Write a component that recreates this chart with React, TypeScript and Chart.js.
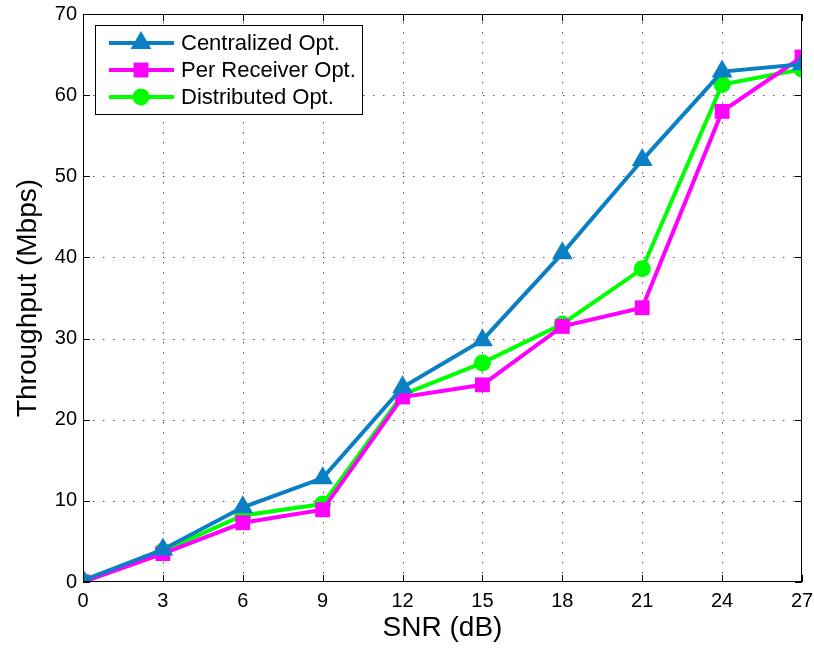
import React, { useEffect, useRef } from "react";
import { Chart, registerables } from "chart.js";

Chart.register(...registerables);

const snr = [0, 3, 6, 9, 12, 15, 18, 21, 24, 27];
const centralized = [0.2, 4.0, 9.2, 12.8, 24.0, 29.8, 40.5, 52.0, 62.9, 63.8];
const perReceiver = [0.0, 3.5, 7.3, 8.9, 22.8, 24.3, 31.5, 33.8, 58.0, 64.7];
const distributed = [0.1, 3.8, 8.2, 9.6, 23.1, 27.0, 31.8, 38.6, 61.3, 63.2];
const seriesNames = ["Centralized Opt.", "Per Receiver Opt.", "Distributed Opt."];
const xTicks = [0, 3, 6, 9, 12, 15, 18, 21, 24, 27];
const yTicks = [0, 10, 20, 30, 40, 50, 60, 70];

const FONT = "'Liberation Sans', Arial, sans-serif";

const gridPlugin = {
  id: "dotgrid",
  beforeDatasetsDraw(chart: any) {
    const { ctx, chartArea: a, scales } = chart;
    ctx.save();
    ctx.fillStyle = "#555";
    for (const v of xTicks.slice(1, -1)) {
      const x = Math.round(scales.x.getPixelForValue(v));
      for (let y = a.bottom - 10; y > a.top; y -= 10) ctx.fillRect(x, y, 1, 1.5);
    }
    for (const v of yTicks.slice(1, -1)) {
      const y = Math.round(scales.y.getPixelForValue(v));
      for (let x = a.left + 10; x < a.right; x += 10) ctx.fillRect(x, y, 1.5, 1);
    }
    ctx.restore();
  },
};

const framePlugin = {
  id: "frame",
  afterDraw(chart: any) {
    const { ctx, chartArea: a, scales } = chart;
    ctx.save();
    ctx.strokeStyle = "#000";
    ctx.lineWidth = 1;
    ctx.strokeRect(a.left + 0.5, a.top + 0.5, a.right - a.left - 1, a.bottom - a.top - 1);
    const tl = 7;
    ctx.beginPath();
    for (const v of xTicks) {
      const x = Math.round(scales.x.getPixelForValue(v)) + 0.5;
      ctx.moveTo(x, a.bottom);
      ctx.lineTo(x, a.bottom - tl);
      ctx.moveTo(x, a.top);
      ctx.lineTo(x, a.top + tl);
    }
    for (const v of yTicks) {
      const y = Math.round(scales.y.getPixelForValue(v)) + 0.5;
      ctx.moveTo(a.left, y);
      ctx.lineTo(a.left + tl, y);
      ctx.moveTo(a.right, y);
      ctx.lineTo(a.right - tl, y);
    }
    ctx.stroke();

    // legend
    const lx = 95, ly = 25, lw = 267, lh = 89;
    ctx.fillStyle = "#fff";
    ctx.fillRect(lx, ly, lw, lh);
    ctx.strokeStyle = "#000";
    ctx.lineWidth = 1;
    ctx.strokeRect(lx + 0.5, ly + 0.5, lw, lh);
    chart.data.datasets.forEach((ds: any, i: number) => {
      const y = 43 + i * 27;
      ctx.strokeStyle = ds.borderColor;
      ctx.lineWidth = 4;
      ctx.beginPath();
      ctx.moveTo(109, y);
      ctx.lineTo(174, y);
      ctx.stroke();
      ctx.fillStyle = ds.backgroundColor;
      const cx = 141;
      ctx.beginPath();
      const r = ds.pointRadius;
      if (ds.pointStyle === "triangle") {
        ctx.moveTo(cx, y - r);
        ctx.lineTo(cx + r * 0.866, y + r * 0.5);
        ctx.lineTo(cx - r * 0.866, y + r * 0.5);
        ctx.closePath();
      } else if (ds.pointStyle === "rect") {
        const s = r * Math.SQRT1_2;
        ctx.rect(cx - s, y - s, 2 * s, 2 * s);
      } else {
        ctx.arc(cx, y, r, 0, Math.PI * 2);
      }
      ctx.fill();
      ctx.fillStyle = "#000";
      ctx.font = `22px ${FONT}`;
      ctx.textBaseline = "middle";
      ctx.textAlign = "left";
      ctx.fillText(ds.label, 181, y + 1);
    });
    ctx.restore();
  },
};

export default function App() {
  const ref = useRef<HTMLCanvasElement>(null);
  useEffect(() => {
    const mk = (arr: number[]) => snr.map((x, i) => ({ x, y: arr[i] }));
    const chart = new Chart(ref.current!, {
      type: "line",
      data: {
        datasets: [
          {
            label: seriesNames[0],
            data: mk(centralized),
            borderColor: "#0a7fc4",
            backgroundColor: "#0a7fc4",
            borderWidth: 4,
            pointStyle: "triangle",
            pointRadius: 12,
            pointBorderWidth: 0,
          },
          {
            label: seriesNames[1],
            data: mk(perReceiver),
            borderColor: "#ff00ff",
            backgroundColor: "#ff00ff",
            borderWidth: 4,
            pointStyle: "rect",
            pointRadius: 10.5,
            pointBorderWidth: 0,
          },
          {
            label: seriesNames[2],
            data: mk(distributed),
            borderColor: "#00ff00",
            backgroundColor: "#00ff00",
            borderWidth: 4,
            pointStyle: "circle",
            pointRadius: 8.5,
            pointBorderWidth: 0,
          },
        ] as any,
      },
      options: {
        animation: false,
        responsive: false,
        layout: { padding: { left: 0, top: 14, right: 10, bottom: 0 } },
        plugins: { legend: { display: false }, tooltip: { enabled: false } },
        scales: {
          x: {
            type: "linear",
            min: 0,
            max: 27,
            afterBuildTicks: (s: any) => {
              s.ticks = xTicks.map((v) => ({ value: v }));
            },
            afterFit: (s: any) => {
              s.height = 66;
              s.paddingLeft = 0;
              s.paddingRight = 0;
            },
            ticks: { color: "#000", font: { family: FONT, size: 20 }, padding: 7 },
            grid: { display: false, drawTicks: false },
            border: { display: false },
            title: {
              display: true,
              text: "SNR (dB)",
              color: "#000",
              font: { family: FONT, size: 28 },
              padding: { top: 0, bottom: 3 },
            },
          },
          y: {
            type: "linear",
            min: 0,
            max: 70,
            afterBuildTicks: (s: any) => {
              s.ticks = yTicks.map((v) => ({ value: v }));
            },
            afterFit: (s: any) => {
              s.width = 83;
              s.paddingTop = 0;
              s.paddingBottom = 0;
            },
            ticks: { color: "#000", font: { family: FONT, size: 20 }, padding: 6 },
            grid: { display: false, drawTicks: false },
            border: { display: false },
            title: {
              display: true,
              text: "Throughput (Mbps)",
              color: "#000",
              font: { family: FONT, size: 28 },
              padding: { top: 11, bottom: 0 },
            },
          },
        },
      },
      plugins: [gridPlugin, framePlugin],
    });
    return () => chart.destroy();
  }, []);
  return (
    <div style={{ position: "fixed", left: 0, top: 0, width: 814, height: 648, background: "#fff" }}>
      <canvas ref={ref} width={814} height={648} style={{ width: 814, height: 648 }} />
    </div>
  );
}
